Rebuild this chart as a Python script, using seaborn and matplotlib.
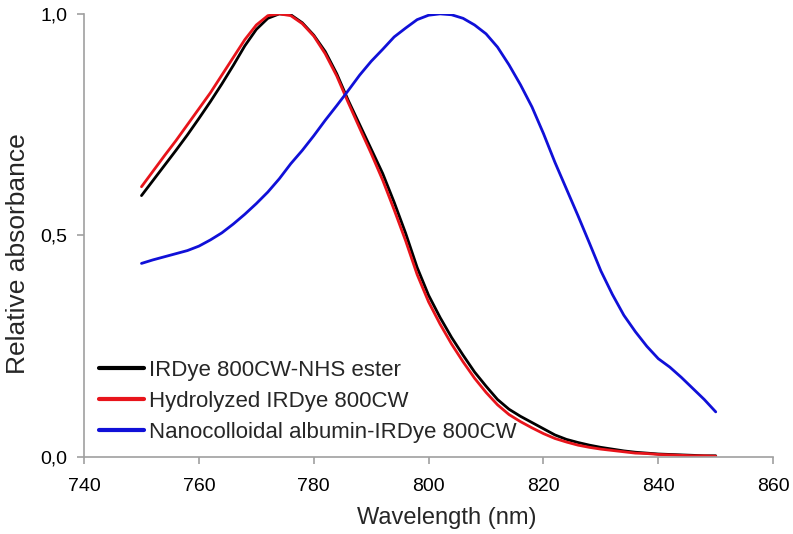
import numpy as np
import pandas as pd
import matplotlib
matplotlib.use("Agg")
import matplotlib.pyplot as plt
import seaborn as sns
from matplotlib.ticker import FuncFormatter

wavelength = list(range(750, 851, 2))

nhs_ester = [0.590, 0.624, 0.658, 0.692, 0.727, 0.764, 0.802, 0.842, 0.884, 0.928,
             0.965, 0.990, 1.000, 0.998, 0.980, 0.952, 0.915, 0.865, 0.805, 0.750,
             0.695, 0.640, 0.575, 0.505, 0.428, 0.365, 0.315, 0.270, 0.230, 0.192,
             0.160, 0.130, 0.108, 0.092, 0.078, 0.064, 0.050, 0.040, 0.033, 0.027,
             0.022, 0.018, 0.014, 0.011, 0.009, 0.007, 0.006, 0.005, 0.004, 0.003,
             0.003]

hydrolyzed = [0.610, 0.645, 0.680, 0.714, 0.750, 0.786, 0.822, 0.862, 0.902, 0.942,
              0.975, 0.996, 1.000, 0.996, 0.978, 0.950, 0.910, 0.860, 0.800, 0.742,
              0.685, 0.625, 0.558, 0.488, 0.412, 0.350, 0.300, 0.255, 0.215, 0.178,
              0.146, 0.118, 0.096, 0.080, 0.066, 0.053, 0.042, 0.034, 0.027, 0.022,
              0.018, 0.015, 0.012, 0.009, 0.008, 0.006, 0.005, 0.004, 0.003, 0.003,
              0.002]

nanocolloid = [0.437, 0.445, 0.452, 0.459, 0.466, 0.476, 0.490, 0.506, 0.526, 0.548,
               0.572, 0.598, 0.628, 0.662, 0.692, 0.725, 0.760, 0.793, 0.827, 0.862,
               0.893, 0.920, 0.948, 0.968, 0.987, 0.997, 1.000, 0.998, 0.990, 0.975,
               0.955, 0.925, 0.885, 0.840, 0.790, 0.730, 0.665, 0.605, 0.545, 0.483,
               0.420, 0.367, 0.320, 0.283, 0.250, 0.222, 0.203, 0.180, 0.155, 0.130,
               0.102]

series_names = ["IRDye 800CW-NHS ester",
                "Hydrolyzed IRDye 800CW",
                "Nanocolloidal albumin-IRDye 800CW"]
series_colors = ["#000000", "#e8141b", "#1010d8"]

x_ticks = [740, 760, 780, 800, 820, 840, 860]
y_ticks = [0.0, 0.5, 1.0]

frames = []
for name, vals in zip(series_names, [nhs_ester, hydrolyzed, nanocolloid]):
    frames.append(pd.DataFrame({"Wavelength": wavelength, "Absorbance": vals, "Sample": name}))
df = pd.concat(frames, ignore_index=True)

sns.set_style("white")
plt.rcParams["font.family"] = ["Liberation Sans", "DejaVu Sans"]

fig = plt.figure(figsize=(7.93, 5.34), dpi=100)
ax = fig.add_axes([0.106, 0.144, 0.869, 0.830])

sns.lineplot(data=df, x="Wavelength", y="Absorbance", hue="Sample",
             hue_order=series_names, palette=dict(zip(series_names, series_colors)),
             linewidth=2.0, ax=ax, sort=False)

ax.set_xlim(740, 860)
ax.set_ylim(0, 1.0)
ax.set_xticks(x_ticks)
ax.set_yticks(y_ticks)
ax.yaxis.set_major_formatter(FuncFormatter(lambda v, p: f"{v:.1f}".replace(".", ",")))

for side in ["top", "right"]:
    ax.spines[side].set_visible(False)
for side in ["left", "bottom"]:
    ax.spines[side].set_color("#a0a0a0")
    ax.spines[side].set_linewidth(1.2)
ax.tick_params(axis="both", which="major", direction="out", length=5, width=1.2,
               color="#a0a0a0", labelsize=14, labelcolor="black",
               bottom=True, left=True)
ax.tick_params(axis="x", pad=10)
ax.tick_params(axis="y", pad=7)

ax.set_xlabel("Wavelength (nm)", fontsize=17)
ax.set_ylabel("Relative absorbance", fontsize=19)
ax.xaxis.set_label_coords(0.527, -0.112)
ax.yaxis.set_label_coords(-0.079, 0.458)

leg = ax.legend(loc="lower left", bbox_to_anchor=(0.0, 0.0), frameon=False,
                fontsize=16, handlelength=2.05, handletextpad=0.2,
                labelspacing=0.45, borderaxespad=0.25)
for line in leg.get_lines():
    line.set_linewidth(3.0)

fig.savefig("out.png", dpi=100)
